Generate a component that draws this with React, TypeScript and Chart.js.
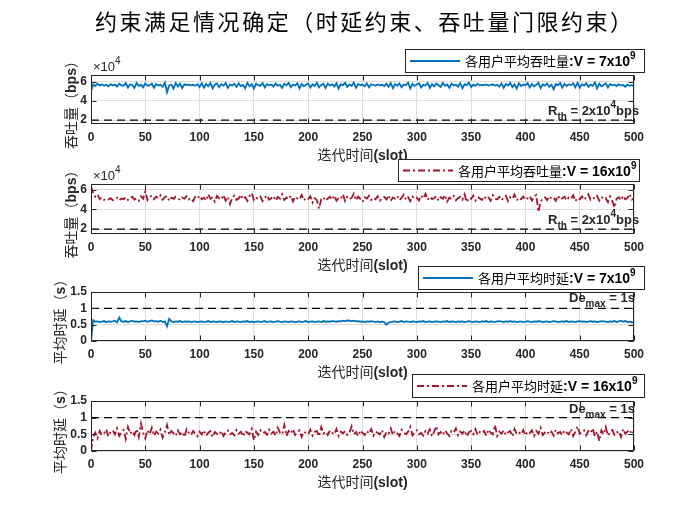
import React, { useEffect, useRef } from "react";
import { Chart, registerables } from "chart.js";

Chart.register(...registerables);

// ---------- data ----------
// iteration slots are sampled every 2 slots: 0, 2, 4, ... 500
const SLOT_STEP = 2;
const X_TICKS = [0, 50, 100, 150, 200, 250, 300, 350, 400, 450, 500];
const Y_TICKS_THROUGHPUT = [2, 4, 6];
const Y_TICKS_DELAY = [0, 0.5, 1, 1.5];

// average user throughput, in units of 10^4 bps, V = 7x10^9
const THROUGHPUT_V7 = [
  5.05, 5.72, 5.55, 5.80, 5.62, 5.74, 5.58, 5.69, 5.52, 5.75,
  5.60, 5.71, 5.48, 5.78, 5.63, 5.59, 5.85, 5.40, 5.73, 5.66,
  5.36, 5.88, 5.55, 5.70, 5.42, 5.83, 5.58, 5.64, 5.80, 5.37,
  5.76, 5.61, 5.69, 5.47, 5.90, 4.90, 5.62, 5.71, 5.28, 5.86,
  5.50, 5.79, 5.33, 5.72, 5.66, 5.70, 5.62, 5.68, 5.58, 5.74,
  5.45, 5.85, 5.38, 5.77, 5.52, 5.88, 5.30, 5.69, 5.81, 5.43,
  5.74, 5.59, 5.87, 5.35, 5.70, 5.62, 5.79, 5.46, 5.84, 5.55,
  5.66, 5.32, 5.89, 5.51, 5.73, 5.28, 5.80, 5.64, 5.57, 5.86,
  5.40, 5.75, 5.62, 5.70, 5.48, 5.82, 5.58, 5.67, 5.36, 5.79,
  5.63, 5.88, 5.44, 5.71, 5.60, 5.84, 5.31, 5.76, 5.55, 5.68,
  5.82, 5.39, 5.74, 5.57, 5.90, 5.42, 5.66, 5.78, 5.34, 5.80,
  5.61, 5.73, 5.50, 5.85, 5.29, 5.72, 5.64, 5.88, 5.46, 5.69,
  5.58, 5.91, 5.37, 5.77, 5.62, 5.70, 5.53, 5.83, 5.41, 5.74,
  5.66, 5.60, 5.72, 5.63, 5.68, 5.55, 5.79, 5.47, 5.86, 5.33,
  5.75, 5.58, 5.82, 5.44, 5.70, 5.65, 5.89, 5.30, 5.78, 5.56,
  5.71, 5.84, 5.40, 5.67, 5.60, 5.87, 5.35, 5.76, 5.52, 5.81,
  5.63, 5.45, 5.88, 5.58, 5.72, 5.38, 5.80, 5.61, 5.69, 5.49,
  5.85, 5.32, 5.74, 5.64, 5.90, 5.43, 5.70, 5.57, 5.78, 5.62,
  5.68, 5.64, 5.71, 5.60, 5.66, 5.73, 5.58, 5.69, 5.50, 5.82,
  5.37, 5.76, 5.61, 5.89, 5.44, 5.72, 5.29, 5.84, 5.55, 5.70,
  5.63, 5.86, 5.41, 5.77, 5.52, 5.68, 5.88, 5.34, 5.73, 5.59,
  5.81, 5.46, 5.69, 5.22, 5.75, 5.62, 5.87, 5.39, 5.78, 5.57,
  5.72, 5.65, 5.83, 5.42, 5.90, 5.36, 5.74, 5.60, 5.85, 5.47,
  5.70, 5.58, 5.92, 5.31, 5.79, 5.53, 5.67, 5.84, 5.40, 5.76,
  5.62, 5.69, 5.55, 5.73, 5.60, 5.66, 5.48, 5.71, 5.58, 5.64,
  5.55,
];

// average user throughput, in units of 10^4 bps, V = 16x10^9
const THROUGHPUT_V16 = [
  6.35, 5.70, 5.30, 5.55, 5.05, 5.22, 4.98, 5.10, 5.02, 5.15,
  4.95, 5.08, 5.20, 4.92, 5.12, 5.05, 5.25, 4.98, 5.18, 5.30,
  5.02, 5.15, 4.90, 5.35, 5.10, 5.85, 4.95, 5.28, 5.40, 5.05,
  5.32, 5.12, 5.45, 5.00, 5.25, 5.38, 4.88, 5.20, 5.08, 5.30,
  5.15, 4.96, 5.22, 5.10, 5.35, 5.02, 5.18, 4.85, 5.28, 5.12,
  5.40, 5.05, 5.20, 4.92, 5.55, 5.10, 5.25, 4.80, 5.38, 5.15,
  5.02, 5.48, 4.90, 5.30, 4.55, 5.20, 5.42, 4.98, 5.12, 5.50,
  5.05, 5.25, 4.88, 5.35, 5.68, 4.95, 5.18, 5.08, 5.32, 4.85,
  5.20, 5.45, 5.00, 5.15, 5.38, 4.90, 5.28, 5.10, 5.55, 4.96,
  5.22, 5.05, 5.40, 4.82, 5.30, 5.12, 5.02, 5.48, 4.92, 5.18,
  5.08, 5.35, 4.70, 5.15, 4.95, 4.10, 5.05, 5.25, 4.88, 5.12,
  5.30, 5.00, 5.42, 4.90, 5.20, 5.10, 5.55, 4.85, 5.28, 5.05,
  5.18, 5.62, 4.95, 5.32, 5.08, 4.78, 5.25, 5.12, 5.40, 4.98,
  5.20, 5.05, 5.35, 4.90, 5.15, 5.28, 5.02, 5.45, 4.88, 5.22,
  5.10, 5.38, 4.95, 5.18, 5.52, 5.00, 5.25, 4.85, 5.32, 5.08,
  5.20, 4.92, 5.42, 5.12, 5.60, 4.98, 5.30, 5.05, 5.18, 5.35,
  4.90, 5.25, 5.10, 5.48, 4.82, 5.22, 5.05, 5.38, 4.95, 5.15,
  5.30, 5.00, 5.55, 4.75, 5.20, 5.08, 5.42, 4.92, 5.28, 5.12,
  4.98, 5.35, 5.05, 5.22, 4.88, 5.45, 5.10, 5.02, 5.30, 4.95,
  5.18, 5.40, 4.85, 5.25, 5.08, 5.52, 4.92, 5.20, 5.05, 5.32,
  4.98, 5.15, 5.38, 4.90, 5.28, 5.48, 3.75, 4.80, 5.10, 5.25,
  4.95, 5.35, 5.08, 5.20, 4.88, 5.42, 5.02, 5.15, 5.30, 4.92,
  5.22, 5.10, 5.45, 4.85, 5.18, 5.05, 5.35, 4.98, 5.25, 5.55,
  5.00, 5.20, 5.12, 5.38, 4.90, 5.28, 5.05, 5.15, 4.75, 5.32,
  4.88, 4.20, 5.10, 5.25, 4.95, 5.40, 5.05, 5.18, 5.58, 5.02,
  5.10,
];

// average user delay (s), V = 7x10^9
const DELAY_V7 = [
  0.00, 0.64, 0.59, 0.60, 0.58, 0.59, 0.61, 0.58, 0.60, 0.59,
  0.60, 0.62, 0.57, 0.72, 0.60, 0.59, 0.61, 0.58, 0.60, 0.62,
  0.59, 0.60, 0.58, 0.61, 0.60, 0.62, 0.59, 0.61, 0.63, 0.60,
  0.61, 0.59, 0.62, 0.58, 0.60, 0.45, 0.68, 0.60, 0.58, 0.60,
  0.59, 0.61, 0.58, 0.60, 0.59, 0.60, 0.58, 0.59, 0.60, 0.58,
  0.59, 0.60, 0.58, 0.59, 0.61, 0.58, 0.60, 0.59, 0.58, 0.60,
  0.59, 0.57, 0.60, 0.58, 0.59, 0.61, 0.58, 0.60, 0.59, 0.58,
  0.60, 0.59, 0.61, 0.58, 0.60, 0.57, 0.59, 0.60, 0.58, 0.59,
  0.61, 0.58, 0.59, 0.60, 0.58, 0.59, 0.61, 0.59, 0.58, 0.60,
  0.59, 0.58, 0.60, 0.59, 0.57, 0.59, 0.60, 0.58, 0.59, 0.61,
  0.58, 0.59, 0.60, 0.58, 0.59, 0.60, 0.58, 0.61, 0.59, 0.60,
  0.59, 0.61, 0.60, 0.59, 0.61, 0.60, 0.62, 0.61, 0.63, 0.62,
  0.61, 0.62, 0.60, 0.61, 0.59, 0.60, 0.58, 0.60, 0.59, 0.61,
  0.59, 0.58, 0.60, 0.57, 0.59, 0.58, 0.50, 0.56, 0.58, 0.59,
  0.60, 0.58, 0.59, 0.61, 0.58, 0.60, 0.59, 0.58, 0.60, 0.59,
  0.58, 0.60, 0.59, 0.61, 0.58, 0.59, 0.60, 0.58, 0.59, 0.60,
  0.59, 0.58, 0.60, 0.59, 0.61, 0.58, 0.60, 0.59, 0.58, 0.60,
  0.59, 0.60, 0.58, 0.59, 0.61, 0.59, 0.58, 0.60, 0.59, 0.58,
  0.60, 0.59, 0.61, 0.58, 0.60, 0.59, 0.58, 0.60, 0.61, 0.59,
  0.58, 0.60, 0.59, 0.61, 0.59, 0.60, 0.58, 0.59, 0.60, 0.58,
  0.59, 0.61, 0.59, 0.58, 0.60, 0.59, 0.61, 0.60, 0.58, 0.59,
  0.60, 0.58, 0.59, 0.61, 0.60, 0.58, 0.59, 0.60, 0.59, 0.61,
  0.58, 0.60, 0.59, 0.58, 0.60, 0.61, 0.59, 0.60, 0.58, 0.59,
  0.61, 0.59, 0.60, 0.58, 0.59, 0.61, 0.60, 0.59, 0.58, 0.60,
  0.59, 0.61, 0.58, 0.60, 0.62, 0.59, 0.61, 0.58, 0.59, 0.57,
  0.58,
];

// average user delay (s), V = 16x10^9
const DELAY_V16 = [
  0.00, 0.42, 0.55, 0.38, 0.60, 0.48, 0.52, 0.65, 0.44, 0.58,
  0.62, 0.50, 0.68, 0.45, 0.57, 0.63, 0.36, 0.72, 0.52, 0.60,
  0.48, 0.66, 0.42, 0.82, 0.55, 0.38, 0.62, 0.50, 0.70, 0.46,
  0.58, 0.52, 0.64, 0.40, 0.56, 0.78, 0.48, 0.60, 0.53, 0.45,
  0.62, 0.50, 0.57, 0.42, 0.66, 0.55, 0.48, 0.60, 0.52, 0.44,
  0.58, 0.50, 0.62, 0.46, 0.55, 0.60, 0.42, 0.57, 0.52, 0.48,
  0.60, 0.45, 0.56, 0.62, 0.50, 0.54, 0.47, 0.63, 0.52, 0.58,
  0.44, 0.60, 0.55, 0.50, 0.66, 0.32, 0.58, 0.48, 0.62, 0.53,
  0.57, 0.49, 0.64, 0.52, 0.58, 0.46, 0.70, 0.55, 0.50, 0.78,
  0.45, 0.60, 0.52, 0.66, 0.48, 0.56, 0.62, 0.42, 0.58, 0.54,
  0.50, 0.64, 0.46, 0.57, 0.60, 0.44, 0.72, 0.52, 0.58, 0.48,
  0.62, 0.55, 0.50, 0.66, 0.45, 0.58, 0.53, 0.60, 0.48, 0.56,
  0.74, 0.50, 0.57, 0.45, 0.62, 0.54, 0.48, 0.60, 0.52, 0.66,
  0.46, 0.58, 0.55, 0.50, 0.63, 0.42, 0.57, 0.52, 0.68, 0.48,
  0.60, 0.53, 0.45, 0.64, 0.55, 0.50, 0.58, 0.72, 0.47, 0.56,
  0.62, 0.50, 0.54, 0.46, 0.60, 0.52, 0.65, 0.44, 0.58, 0.75,
  0.50, 0.57, 0.48, 0.62, 0.53, 0.45, 0.60, 0.55, 0.68, 0.47,
  0.58, 0.52, 0.62, 0.44, 0.56, 0.60, 0.50, 0.66, 0.48, 0.57,
  0.53, 0.60, 0.46, 0.64, 0.55, 0.50, 0.78, 0.45, 0.58, 0.52,
  0.62, 0.48, 0.56, 0.60, 0.44, 0.66, 0.52, 0.57, 0.50, 0.63,
  0.47, 0.58, 0.54, 0.62, 0.45, 0.60, 0.52, 0.70, 0.48, 0.56,
  0.60, 0.50, 0.58, 0.46, 0.64, 0.53, 0.57, 0.48, 0.62, 0.55,
  0.50, 0.66, 0.45, 0.58, 0.74, 0.52, 0.56, 0.62, 0.47, 0.60,
  0.54, 0.68, 0.44, 0.58, 0.30, 0.62, 0.50, 0.72, 0.46, 0.57,
  0.63, 0.48, 0.55, 0.60, 0.42, 0.66, 0.52, 0.58, 0.64, 0.50,
  0.60,
];

const R_TH = 2; // throughput threshold, x10^4 bps
const DE_MAX = 1; // delay limit, s

// ---------- texts ----------
const TITLE = "约束满足情况确定（时延约束、吞吐量门限约束）";
const XLABEL = ["迭代时间", "(slot)"];
const YLABEL_THROUGHPUT = ["吞吐量（", "bps", "）"];
const YLABEL_DELAY = ["平均时延（", "s", "）"];

// ---------- styles ----------
const BLUE = "#0072BD";
const RED = "#A2142F";
const INK = "#262626";
const GRID = "#dedede";
const LAT = '"Liberation Sans", Arial, sans-serif';
const CJK = '"Noto Sans CJK SC", "Noto Sans CJK TC", sans-serif';
const F_TICK = { family: LAT, size: 12, weight: "bold" as const };
const B14 = `bold 14px ${LAT}`;
const B13 = `bold 13px ${LAT}`;
const B10 = `bold 10px ${LAT}`;
const N13 = `13px ${LAT}`;
const N10 = `10px ${LAT}`;
const C13 = `13px ${CJK}`;
const C14 = `14px ${CJK}`;
const DASH_DOT = [7, 3, 2, 3];

type Run = { t: string; f: string; dy?: number };

interface Spec {
  top: number;
  bottom: number;
  ymin: number;
  ymax: number;
  yticks: number[];
  values: number[];
  color: string;
  dash: number[];
  limit: number;
  ylabel: string[];
  ylabelX: number;
  exponent: boolean;
  legend: { x1: number; y1: number; x2: number; y2: number; runs: Run[] };
  note: { x: number; y: number; runs: Run[] };
  title: boolean;
}

const RTH_RUNS: Run[] = [
  { t: "R", f: B13 },
  { t: "th", f: B10, dy: 5.5 },
  { t: " = 2x10", f: B13 },
  { t: "4", f: B10, dy: -7 },
  { t: "bps", f: B13 },
];
const DEMAX_RUNS: Run[] = [
  { t: "De", f: B13 },
  { t: "max", f: B10, dy: 5 },
  { t: " = 1s", f: B13 },
];

const SPECS: Spec[] = [
  {
    top: 75, bottom: 124, ymin: 1.6, ymax: 6.7, yticks: Y_TICKS_THROUGHPUT,
    values: THROUGHPUT_V7, color: BLUE, dash: [], limit: R_TH,
    ylabel: YLABEL_THROUGHPUT, ylabelX: 71, exponent: true,
    legend: { x1: 405, y1: 49, x2: 645, y2: 73, runs: [
      { t: "各用户平均吞吐量", f: C13 }, { t: ":V = 7x10", f: B14 }, { t: "9", f: B10, dy: -7 }] },
    note: { x: 548, y: 114.5, runs: RTH_RUNS },
    title: true,
  },
  {
    top: 184, bottom: 234, ymin: 1.5, ymax: 6.6, yticks: Y_TICKS_THROUGHPUT,
    values: THROUGHPUT_V16, color: RED, dash: DASH_DOT, limit: R_TH,
    ylabel: YLABEL_THROUGHPUT, ylabelX: 71, exponent: true,
    legend: { x1: 398, y1: 159, x2: 640, y2: 182, runs: [
      { t: "各用户平均吞吐量", f: C13 }, { t: ":V = 16x10", f: B14 }, { t: "9", f: B10, dy: -7 }] },
    note: { x: 548, y: 223.5, runs: RTH_RUNS },
    title: false,
  },
  {
    top: 292, bottom: 341, ymin: 0, ymax: 1.5, yticks: Y_TICKS_DELAY,
    values: DELAY_V7, color: BLUE, dash: [], limit: DE_MAX,
    ylabel: YLABEL_DELAY, ylabelX: 60, exponent: false,
    legend: { x1: 418, y1: 266, x2: 645, y2: 290, runs: [
      { t: "各用户平均时延", f: C13 }, { t: ":V = 7x10", f: B14 }, { t: "9", f: B10, dy: -7 }] },
    note: { x: 569, y: 302, runs: DEMAX_RUNS },
    title: false,
  },
  {
    top: 401, bottom: 451, ymin: 0, ymax: 1.5, yticks: Y_TICKS_DELAY,
    values: DELAY_V16, color: RED, dash: DASH_DOT, limit: DE_MAX,
    ylabel: YLABEL_DELAY, ylabelX: 60, exponent: false,
    legend: { x1: 412, y1: 374, x2: 645, y2: 398, runs: [
      { t: "各用户平均时延", f: C13 }, { t: ":V = 16x10", f: B14 }, { t: "9", f: B10, dy: -7 }] },
    note: { x: 569, y: 412.5, runs: DEMAX_RUNS },
    title: false,
  },
];

const W = 700;
const H = 525;
const PLOT_LEFT = 91;
const PLOT_RIGHT = 634;
const Y_AXIS_W = 40;
const X_AXIS_H = 20;

function runsWidth(ctx: CanvasRenderingContext2D, runs: Run[]) {
  let w = 0;
  for (const r of runs) {
    ctx.font = r.f;
    w += ctx.measureText(r.t).width;
  }
  return w;
}

function drawRuns(ctx: CanvasRenderingContext2D, runs: Run[], x: number, y: number) {
  let cx = x;
  for (const r of runs) {
    ctx.font = r.f;
    ctx.fillText(r.t, cx, y + (r.dy || 0));
    cx += ctx.measureText(r.t).width;
  }
}

function overlayPlugin(spec: Spec) {
  return {
    id: "overlay",
    afterDraw(chart: any) {
      const ctx: CanvasRenderingContext2D = chart.ctx;
      const { left, right, top, bottom } = chart.chartArea;
      const xs = chart.scales.x;
      const ys = chart.scales.y;
      ctx.save();
      ctx.textAlign = "left";
      ctx.textBaseline = "alphabetic";

      // axes box + inward ticks
      ctx.strokeStyle = INK;
      ctx.lineWidth = 1;
      ctx.setLineDash([]);
      const l = Math.round(left) + 0.5;
      const r = Math.round(right) - 0.5;
      const t = Math.round(top) + 0.5;
      const b = Math.round(bottom) - 0.5;
      ctx.strokeRect(l, t, r - l, b - t);
      ctx.beginPath();
      for (const v of X_TICKS) {
        const px = Math.round(xs.getPixelForValue(v)) + 0.5;
        ctx.moveTo(px, b); ctx.lineTo(px, b - 5);
        ctx.moveTo(px, t); ctx.lineTo(px, t + 5);
      }
      for (const v of spec.yticks) {
        const py = Math.round(ys.getPixelForValue(v)) + 0.5;
        ctx.moveTo(l, py); ctx.lineTo(l + 5, py);
        ctx.moveTo(r, py); ctx.lineTo(r - 5, py);
      }
      ctx.stroke();

      ctx.fillStyle = INK;
      // exponent label
      if (spec.exponent) {
        drawRuns(ctx, [{ t: "×10", f: N13 }, { t: "4", f: N10, dy: -7 }], 93, top - 4.5);
      }

      // y label (rotated)
      const yl: Run[] = [
        { t: spec.ylabel[0], f: C14 },
        { t: spec.ylabel[1], f: B14 },
        { t: spec.ylabel[2], f: C14 },
      ];
      const ylw = runsWidth(ctx, yl);
      ctx.save();
      ctx.translate(spec.ylabelX, (top + bottom) / 2 + 2);
      ctx.rotate(-Math.PI / 2);
      drawRuns(ctx, yl, -ylw / 2, 5);
      ctx.restore();

      // x label
      const xl: Run[] = [{ t: XLABEL[0], f: C14 }, { t: XLABEL[1], f: B14 }];
      const xlw = runsWidth(ctx, xl);
      drawRuns(ctx, xl, (left + right) / 2 - xlw / 2, bottom + 36);

      // limit annotation
      drawRuns(ctx, spec.note.runs, spec.note.x, spec.note.y);

      // legend
      const lg = spec.legend;
      ctx.fillStyle = "#ffffff";
      ctx.fillRect(lg.x1, lg.y1, lg.x2 - lg.x1, lg.y2 - lg.y1);
      ctx.strokeStyle = INK;
      ctx.lineWidth = 1;
      ctx.strokeRect(lg.x1 + 0.5, lg.y1 + 0.5, lg.x2 - lg.x1 - 1, lg.y2 - lg.y1 - 1);
      const cy = (lg.y1 + lg.y2) / 2;
      ctx.beginPath();
      ctx.strokeStyle = spec.color;
      ctx.lineWidth = 1.8;
      ctx.setLineDash(spec.dash);
      ctx.moveTo(lg.x1 + 5, cy);
      ctx.lineTo(lg.x1 + 55, cy);
      ctx.stroke();
      ctx.setLineDash([]);
      ctx.fillStyle = "#000000";
      drawRuns(ctx, lg.runs, lg.x1 + 60, cy + 5);

      // figure title
      if (spec.title) {
        ctx.font = `22px ${CJK}`;
        const w0 = ctx.measureText(TITLE).width;
        const sp = (537 - w0) / (TITLE.length - 1);
        (ctx as any).letterSpacing = `${sp}px`;
        ctx.fillStyle = "#000000";
        ctx.fillText(TITLE, 95, 30);
        (ctx as any).letterSpacing = "0px";
      }
      ctx.restore();
    },
  };
}

function buildConfig(spec: Spec): any {
  const points = spec.values.map((v, i) => ({ x: i * SLOT_STEP, y: v }));
  return {
    type: "line",
    data: {
      datasets: [
        {
          data: points,
          borderColor: spec.color,
          borderWidth: 1.8,
          borderDash: spec.dash,
          pointRadius: 0,
          tension: 0,
          fill: false,
        },
        {
          data: [
            { x: X_TICKS[0], y: spec.limit },
            { x: X_TICKS[X_TICKS.length - 1], y: spec.limit },
          ],
          borderColor: "#000000",
          borderWidth: 1.2,
          borderDash: [8, 5],
          pointRadius: 0,
          fill: false,
        },
      ],
    },
    options: {
      animation: false,
      responsive: false,
      maintainAspectRatio: false,
      events: [],
      layout: {
        padding: {
          left: PLOT_LEFT - Y_AXIS_W,
          right: W - PLOT_RIGHT,
          top: spec.top,
          bottom: H - spec.bottom - X_AXIS_H,
        },
      },
      plugins: {
        legend: { display: false },
        title: { display: false },
        tooltip: { enabled: false },
      },
      scales: {
        x: {
          type: "linear",
          min: 0,
          max: 500,
          afterBuildTicks: (s: any) => {
            s.ticks = X_TICKS.map((v) => ({ value: v }));
          },
          afterFit: (s: any) => {
            s.height = X_AXIS_H;
          },
          grid: { color: GRID, drawTicks: false, lineWidth: 1 },
          border: { display: false },
          ticks: {
            font: F_TICK,
            color: INK,
            padding: 6.5,
            maxRotation: 0,
            autoSkip: false,
            callback: (v: number) => String(v),
          },
        },
        y: {
          type: "linear",
          min: spec.ymin,
          max: spec.ymax,
          afterBuildTicks: (s: any) => {
            s.ticks = spec.yticks.map((v) => ({ value: v }));
          },
          afterFit: (s: any) => {
            s.width = Y_AXIS_W;
          },
          grid: { color: GRID, drawTicks: false, lineWidth: 1 },
          border: { display: false },
          ticks: {
            font: F_TICK,
            color: INK,
            padding: 4,
            autoSkip: false,
            callback: (v: number) => String(v),
          },
        },
      },
    },
    plugins: [overlayPlugin(spec)],
  };
}

function Subplot({ spec, z }: { spec: Spec; z: number }) {
  const ref = useRef<HTMLCanvasElement>(null);
  useEffect(() => {
    if (!ref.current) return;
    const chart = new Chart(ref.current, buildConfig(spec));
    return () => chart.destroy();
  }, [spec]);
  return (
    <canvas
      ref={ref}
      width={W}
      height={H}
      style={{ position: "absolute", left: 0, top: 0, width: W, height: H, zIndex: z }}
    />
  );
}

export default function App() {
  return (
    <div
      style={{
        position: "fixed",
        left: 0,
        top: 0,
        width: W,
        height: H,
        background: "#ffffff",
        overflow: "hidden",
      }}
    >
      {SPECS.map((s, i) => (
        <Subplot key={i} spec={s} z={i + 1} />
      ))}
    </div>
  );
}
